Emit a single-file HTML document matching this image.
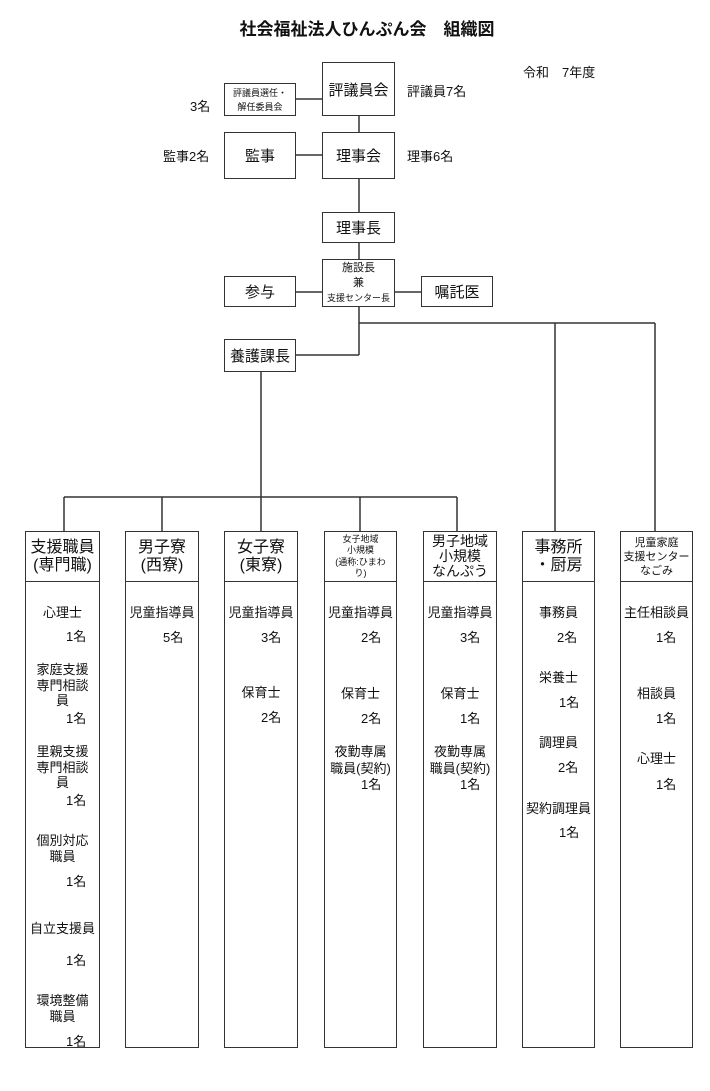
<!DOCTYPE html>
<html><head><meta charset="utf-8">
<style>
body{margin:0;width:710px;height:1091px;background:#fff;position:relative;overflow:hidden;font-family:"Liberation Sans","Noto Sans CJK JP",sans-serif;color:#111}
.b{position:absolute;border:1.5px solid #333;box-sizing:border-box;background:#fff;display:flex;align-items:center;justify-content:center;text-align:center;white-space:nowrap}
.t{position:absolute;white-space:nowrap;font-size:13px;line-height:16px}
.c{text-align:center}
svg{position:absolute;left:0;top:0}
</style></head><body>
<svg width="710" height="1091">
<g stroke="#333" stroke-width="1.5" fill="none">
<line x1="296" y1="99" x2="322" y2="99"/>
<line x1="359" y1="116" x2="359" y2="132"/>
<line x1="296" y1="155" x2="322" y2="155"/>
<line x1="359" y1="179" x2="359" y2="212"/>
<line x1="359" y1="243" x2="359" y2="259"/>
<line x1="296" y1="292" x2="322" y2="292"/>
<line x1="395" y1="292" x2="421" y2="292"/>
<line x1="359" y1="307" x2="359" y2="355"/>
<line x1="296" y1="355" x2="359" y2="355"/>
<line x1="359" y1="323" x2="655" y2="323"/>
<line x1="555" y1="323" x2="555" y2="531"/>
<line x1="655" y1="323" x2="655" y2="531"/>
<line x1="261" y1="372" x2="261" y2="497"/>
<line x1="64" y1="497" x2="457" y2="497"/>
<line x1="64" y1="497" x2="64" y2="531"/>
<line x1="162" y1="497" x2="162" y2="531"/>
<line x1="261" y1="497" x2="261" y2="531"/>
<line x1="360" y1="497" x2="360" y2="531"/>
<line x1="457" y1="497" x2="457" y2="531"/>
</g></svg>

<div class="t" style="left:0;width:734px;top:20px;font-size:17px;line-height:20px;font-weight:bold;text-align:center">社会福祉法人ひんぷん会　組織図</div>
<div class="t" style="left:523px;top:65px">令和　7年度</div>
<div class="t" style="left:407px;top:84px">評議員7名</div>
<div class="t" style="left:190px;top:99px">3名</div>
<div class="t" style="left:163px;top:149px">監事2名</div>
<div class="t" style="left:407px;top:149px">理事6名</div>

<div class="b" style="left:322px;top:62px;width:73px;height:54px;font-size:15px">評議員会</div>
<div class="b" style="left:224px;top:83px;width:72px;height:33px;font-size:9px;line-height:14px"><div>評議員選任・<br>解任委員会</div></div>
<div class="b" style="left:224px;top:132px;width:72px;height:47px;font-size:15px">監事</div>
<div class="b" style="left:322px;top:132px;width:73px;height:47px;font-size:15px">理事会</div>
<div class="b" style="left:322px;top:212px;width:73px;height:31px;font-size:15px">理事長</div>
<div class="b" style="left:322px;top:259px;width:73px;height:48px;font-size:11px;line-height:15px"><div>施設長<br>兼<br><span style="font-size:9px">支援センター長</span></div></div>
<div class="b" style="left:224px;top:276px;width:72px;height:31px;font-size:15px">参与</div>
<div class="b" style="left:421px;top:276px;width:72px;height:31px;font-size:15px">嘱託医</div>
<div class="b" style="left:224px;top:339px;width:72px;height:33px;font-size:15px">養護課長</div>

<!-- columns -->
<div class="b" style="left:25px;top:531px;width:75px;height:517px"></div>
<div class="b" style="left:125px;top:531px;width:74px;height:517px"></div>
<div class="b" style="left:224px;top:531px;width:74px;height:517px"></div>
<div class="b" style="left:324px;top:531px;width:73px;height:517px"></div>
<div class="b" style="left:423px;top:531px;width:74px;height:517px"></div>
<div class="b" style="left:522px;top:531px;width:73px;height:517px"></div>
<div class="b" style="left:620px;top:531px;width:73px;height:517px"></div>
<div class="b" style="left:25px;top:531px;width:75px;height:51px;font-size:16px;line-height:18px"><div>支援職員<br>(専門職)</div></div>
<div class="b" style="left:125px;top:531px;width:74px;height:51px;font-size:16px;line-height:18px"><div>男子寮<br>(西寮)</div></div>
<div class="b" style="left:224px;top:531px;width:74px;height:51px;font-size:16px;line-height:18px"><div>女子寮<br>(東寮)</div></div>
<div class="b" style="left:324px;top:531px;width:73px;height:51px;font-size:9px;line-height:11.5px"><div>女子地域<br>小規模<br>(通称:ひまわ<br>り)</div></div>
<div class="b" style="left:423px;top:531px;width:74px;height:51px;font-size:14px;line-height:15px"><div>男子地域<br>小規模<br>なんぷう</div></div>
<div class="b" style="left:522px;top:531px;width:73px;height:51px;font-size:16px;line-height:18px"><div>事務所<br>・厨房</div></div>
<div class="b" style="left:620px;top:531px;width:73px;height:51px;font-size:11px;line-height:14px"><div>児童家庭<br>支援センター<br>なごみ</div></div>

<!-- col1 -->
<div class="t c" style="left:25px;width:75px;top:605px">心理士</div>
<div class="t" style="left:66px;top:629px">1名</div>
<div class="t c" style="left:25px;width:75px;top:662px;line-height:15.5px">家庭支援<br>専門相談<br>員</div>
<div class="t" style="left:66px;top:711px">1名</div>
<div class="t c" style="left:25px;width:75px;top:744px;line-height:15.5px">里親支援<br>専門相談<br>員</div>
<div class="t" style="left:66px;top:793px">1名</div>
<div class="t c" style="left:25px;width:75px;top:833px;line-height:16px">個別対応<br>職員</div>
<div class="t" style="left:66px;top:874px">1名</div>
<div class="t c" style="left:25px;width:75px;top:921px">自立支援員</div>
<div class="t" style="left:66px;top:953px">1名</div>
<div class="t c" style="left:25px;width:75px;top:993px;line-height:15.5px">環境整備<br>職員</div>
<div class="t" style="left:66px;top:1034px">1名</div>
<!-- col2 -->
<div class="t c" style="left:125px;width:74px;top:605px">児童指導員</div>
<div class="t" style="left:163px;top:630px">5名</div>
<!-- col3 -->
<div class="t c" style="left:224px;width:74px;top:605px">児童指導員</div>
<div class="t" style="left:261px;top:630px">3名</div>
<div class="t c" style="left:224px;width:74px;top:685px">保育士</div>
<div class="t" style="left:261px;top:710px">2名</div>
<!-- col4 -->
<div class="t c" style="left:324px;width:73px;top:605px">児童指導員</div>
<div class="t" style="left:361px;top:630px">2名</div>
<div class="t c" style="left:324px;width:73px;top:686px">保育士</div>
<div class="t" style="left:361px;top:711px">2名</div>
<div class="t c" style="left:324px;width:73px;top:744px;line-height:16.5px">夜勤専属<br>職員(契約)</div>
<div class="t" style="left:361px;top:777px">1名</div>
<!-- col5 -->
<div class="t c" style="left:423px;width:74px;top:605px">児童指導員</div>
<div class="t" style="left:460px;top:630px">3名</div>
<div class="t c" style="left:423px;width:74px;top:686px">保育士</div>
<div class="t" style="left:460px;top:711px">1名</div>
<div class="t c" style="left:423px;width:74px;top:744px;line-height:16.5px">夜勤専属<br>職員(契約)</div>
<div class="t" style="left:460px;top:777px">1名</div>
<!-- col6 -->
<div class="t c" style="left:522px;width:73px;top:605px">事務員</div>
<div class="t" style="left:557px;top:630px">2名</div>
<div class="t c" style="left:522px;width:73px;top:670px">栄養士</div>
<div class="t" style="left:559px;top:695px">1名</div>
<div class="t c" style="left:522px;width:73px;top:735px">調理員</div>
<div class="t" style="left:558px;top:760px">2名</div>
<div class="t c" style="left:522px;width:73px;top:801px">契約調理員</div>
<div class="t" style="left:559px;top:825px">1名</div>
<!-- col7 -->
<div class="t c" style="left:620px;width:73px;top:605px">主任相談員</div>
<div class="t" style="left:656px;top:630px">1名</div>
<div class="t c" style="left:620px;width:73px;top:686px">相談員</div>
<div class="t" style="left:656px;top:711px">1名</div>
<div class="t c" style="left:620px;width:73px;top:751px">心理士</div>
<div class="t" style="left:656px;top:777px">1名</div>
</body></html>
